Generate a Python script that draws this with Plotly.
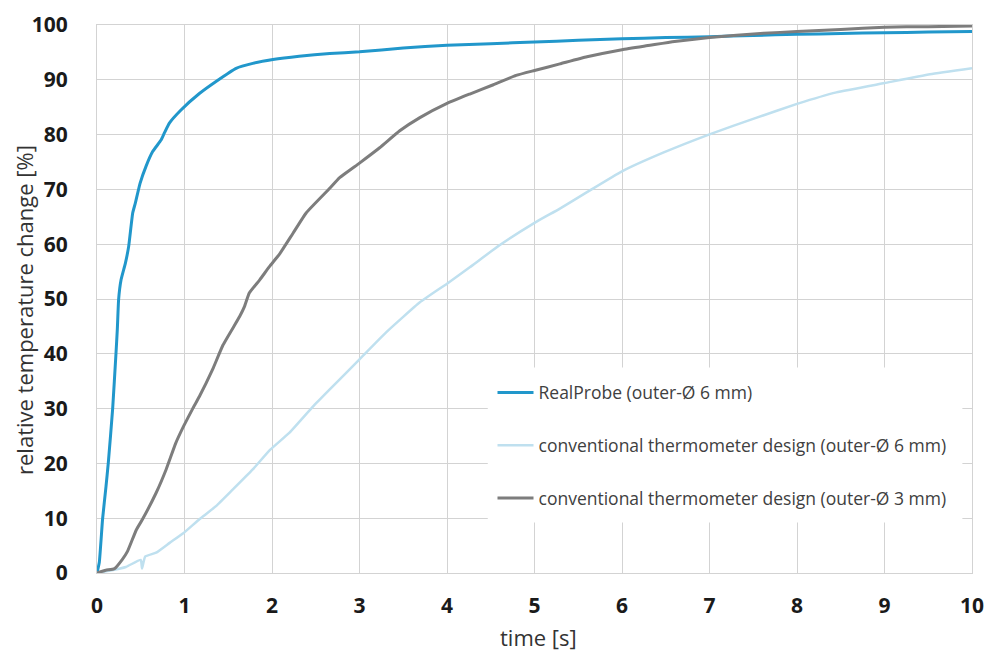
import plotly.graph_objects as go

# ---------------- data ----------------
series_names = [
    "RealProbe (outer-Ø 6 mm)",
    "conventional thermometer design (outer-Ø 6 mm)",
    "conventional thermometer design (outer-Ø 3 mm)",
]

t_realprobe = [0, 0.026, 0.064, 0.103, 0.129, 0.179, 0.217, 0.232, 0.247, 0.275, 0.324,
               0.362, 0.408, 0.438, 0.492, 0.56, 0.636, 0.732, 0.77, 0.827, 0.96, 1.17,
               1.36, 1.59, 1.78, 2.01, 2.31, 2.66, 3.0, 3.5, 4.0, 4.5, 5.0, 5.5, 6.0,
               6.5, 7.0, 7.5, 8.0, 8.5, 9.0, 9.5, 10.0]
v_realprobe = [0, 1.9, 9.9, 15.8, 20.1, 30.0, 40.1, 44.4, 49.9, 53.5, 56.5,
               59.6, 65.7, 67.5, 71.1, 74.2, 76.9, 79.0, 80.3, 82.1, 84.5, 87.5,
               89.7, 92.1, 93.0, 93.7, 94.3, 94.8, 95.1, 95.8, 96.3, 96.6, 96.9, 97.2, 97.5,
               97.7, 97.85, 98.1, 98.3, 98.45, 98.6, 98.7, 98.8]

t_conv6 = [0, 0.14, 0.33, 0.5, 0.515, 0.55, 0.675, 0.83, 0.99, 1.17, 1.36, 1.55, 1.78,
           1.98, 2.2, 2.47, 2.66, 3.0, 3.31, 3.69, 4.0, 4.26, 4.6, 5.0, 5.29, 5.6, 6.0,
           6.47, 7.0, 7.54, 8.0, 8.45, 9.0, 9.52, 10.0]
v_conv6 = [0, 0.4, 1.1, 2.4, 0.8, 3.0, 3.7, 5.5, 7.3, 9.8, 12.2, 15.2, 18.9,
           22.5, 25.6, 30.4, 33.5, 39.0, 44.0, 49.4, 52.8, 55.8, 59.8, 63.9, 66.5, 69.5, 73.3,
           76.7, 80.05, 83.1, 85.6, 87.7, 89.4, 91.0, 92.1]

t_conv3 = [0, 0.1, 0.2, 0.29, 0.35, 0.45, 0.52, 0.675, 0.79, 0.9, 0.99, 1.094, 1.17, 1.32,
           1.44, 1.63, 1.685, 1.74, 1.86, 1.97, 2.09, 2.24, 2.39, 2.66, 2.77, 3.0, 3.23,
           3.46, 3.69, 4.0, 4.26, 4.53, 4.79, 5.0, 5.29, 5.6, 6.0, 6.32, 6.6, 7.0, 7.62,
           8.0, 8.5, 9.0, 9.5, 10.0]
v_conv3 = [0, 0.5, 0.8, 2.5, 4.0, 7.9, 9.8, 14.6, 18.9, 23.7, 26.8, 30.0, 32.2, 37.1,
           41.6, 46.8, 48.6, 51.1, 53.5, 55.9, 58.3, 62.0, 65.7, 70.2, 72.1, 74.8, 77.6,
           80.7, 83.1, 85.7, 87.4, 89.1, 90.8, 91.7, 92.9, 94.2, 95.5, 96.3, 97.0, 97.7, 98.5,
           98.8, 99.2, 99.6, 99.7, 99.8]

x_ticks = [0, 1, 2, 3, 4, 5, 6, 7, 8, 9, 10]
y_ticks = [0, 10, 20, 30, 40, 50, 60, 70, 80, 90, 100]

x_title = "time [s]"
y_title = "relative temperature change [%]"

# ---------------- figure ----------------
FONT = "Open Sans"
GRID = "#d3d3d3"

fig = go.Figure()

styles = [
    dict(color="#2197cb", width=3, shape="spline", smoothing=0.4),
    dict(color="#bfe0ef", width=2.5, shape="spline", smoothing=0.4),
    dict(color="#7d7d7d", width=3, shape="spline", smoothing=0.4),
]
data = [(t_realprobe, v_realprobe), (t_conv6, v_conv6), (t_conv3, v_conv3)]

for i, (name, (tx, vy), st) in enumerate(zip(series_names, data, styles)):
    fig.add_trace(go.Scatter(
        x=tx, y=vy, mode="lines", name=name,
        line=st, legendgroup=f"g{i}",
    ))

# white legend panel covering the grid
fig.add_shape(type="rect", xref="x", yref="y", x0=4.466, x1=9.89, y0=9.2, y1=37.5,
              fillcolor="white", line=dict(width=0), layer="between")

# axis titles
fig.add_annotation(text=y_title, xref="paper", yref="paper", x=-0.0834, y=0.48,
                   xanchor="center", yanchor="middle", textangle=-90, showarrow=False,
                   font=dict(family=FONT, size=22, color="#333333"))
fig.add_annotation(text=x_title, xref="paper", yref="paper", x=0.505, y=-0.117,
                   xanchor="center", yanchor="middle", showarrow=False,
                   font=dict(family=FONT, size=22, color="#333333"))

fig.update_layout(
    width=988, height=654,
    margin=dict(l=97, r=16, t=25, b=81),
    paper_bgcolor="white", plot_bgcolor="white",
    font=dict(family=FONT, color="#333333"),
    showlegend=True,
    legend=dict(
        x=0.452, y=0.362, xanchor="left", yanchor="top",
        bgcolor="rgba(0,0,0,0)", borderwidth=0,
        font=dict(family=FONT, size=17.5, color="#404040"),
        traceorder="grouped", tracegroupgap=27, itemwidth=36,
    ),
    xaxis=dict(
        range=[0, 10], tickvals=x_ticks, ticktext=[str(v) for v in x_ticks],
        showgrid=True, gridcolor=GRID, gridwidth=1,
        showline=True, linecolor=GRID, linewidth=1, mirror=True,
        zeroline=False, ticks="", ticklabelstandoff=14, automargin=False,
        tickfont=dict(family=FONT, size=21, color="#1a1a1a", weight="bold"),
    ),
    yaxis=dict(
        range=[0, 100], tickvals=y_ticks, ticktext=[str(v) for v in y_ticks],
        showgrid=True, gridcolor=GRID, gridwidth=1,
        showline=True, linecolor=GRID, linewidth=1, mirror=True,
        zeroline=False, ticks="", ticklabelstandoff=24, automargin=False,
        tickfont=dict(family=FONT, size=21, color="#1a1a1a", weight="bold"),
    ),
)

fig.write_html(
    "out.html",
    config={"displayModeBar": False},
    post_script="document.body.style.margin='0px';document.body.style.overflow='hidden';",
)
